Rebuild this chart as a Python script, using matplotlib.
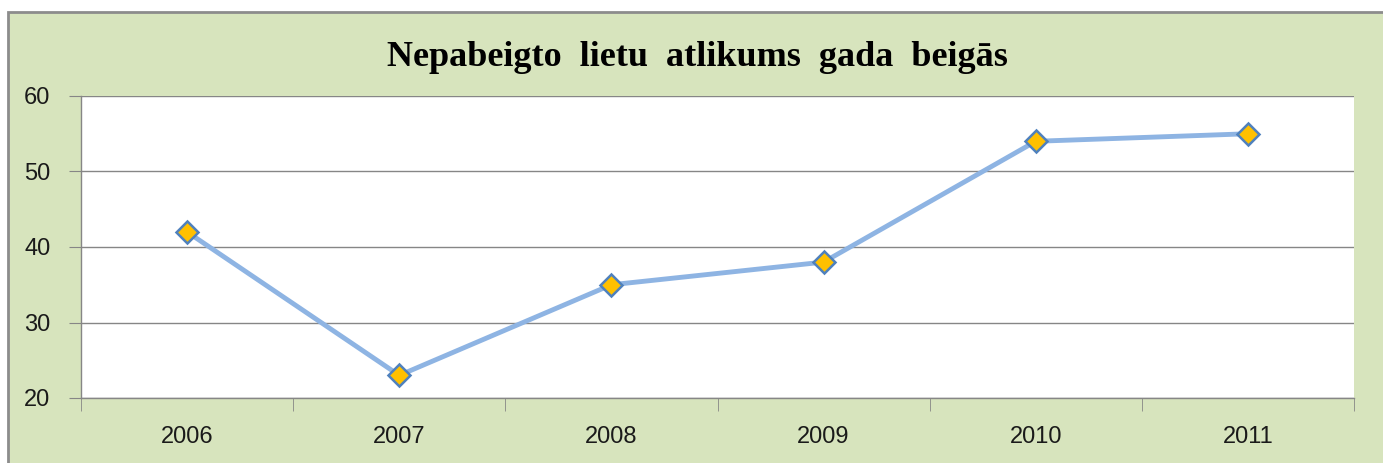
import matplotlib.pyplot as plt
from matplotlib.patches import Rectangle

years = ["2006", "2007", "2008", "2009", "2010", "2011"]
values = [42, 23, 35, 38, 54, 55]
y_ticks = [20, 30, 40, 50, 60]

fig = plt.figure(figsize=(13.83, 4.63), dpi=100)
fig.patch.set_facecolor("white")

# zaļais fons ar pelēku rāmi (labā un apakšējā mala ārpus attēla)
W, H = 1383.0, 463.0
bg = Rectangle((8 / W, -0.05), 1.1, 1.05 - 12 / H, transform=fig.transFigure,
               facecolor="#D7E4BD", edgecolor="#8C8C8C", linewidth=2, zorder=-1)
fig.patches.append(bg)

ax = fig.add_axes([81 / W, 1 - 398 / H, (1354 - 81) / W, (398 - 96) / H])
ax.set_zorder(2)
ax.set_facecolor("white")

x = list(range(len(years)))
ax.plot(x, values, color="#8EB4E3", linewidth=3.5, marker="D", markersize=11,
        markerfacecolor="#FFC000", markeredgecolor="#4F81BD", markeredgewidth=1.8,
        zorder=3, clip_on=False)

ax.set_xlim(-0.5, len(years) - 0.5)
ax.set_ylim(20, 60)
ax.set_yticks(y_ticks)
ax.set_yticklabels([str(v) for v in y_ticks])
ax.set_xticks(x)
ax.set_xticklabels(years)
ax.set_xticks([i - 0.5 for i in range(len(years) + 1)], minor=True)

ax.grid(axis="y", color="#868686", linewidth=1)
ax.set_axisbelow(True)
for s in ["top", "right"]:
    ax.spines[s].set_visible(False)
for s in ["left", "bottom"]:
    ax.spines[s].set_color("#868686")
    ax.spines[s].set_linewidth(1)

ax.tick_params(axis="x", which="major", length=0, pad=20, labelsize=17)
ax.tick_params(axis="x", which="minor", length=9, color="#868686")
ax.tick_params(axis="y", length=9, color="#868686", pad=13, labelsize=17)
for lbl in ax.get_xticklabels() + ax.get_yticklabels():
    lbl.set_fontfamily("Liberation Sans")
    lbl.set_color("#1a1a1a")

fig.text(697 / W, 1 - 58 / H, "Nepabeigto  lietu  atlikums  gada  beigās",
         ha="center", va="center", fontsize=26, fontweight="bold",
         family="Liberation Serif")

fig.savefig("out.png", dpi=100)
